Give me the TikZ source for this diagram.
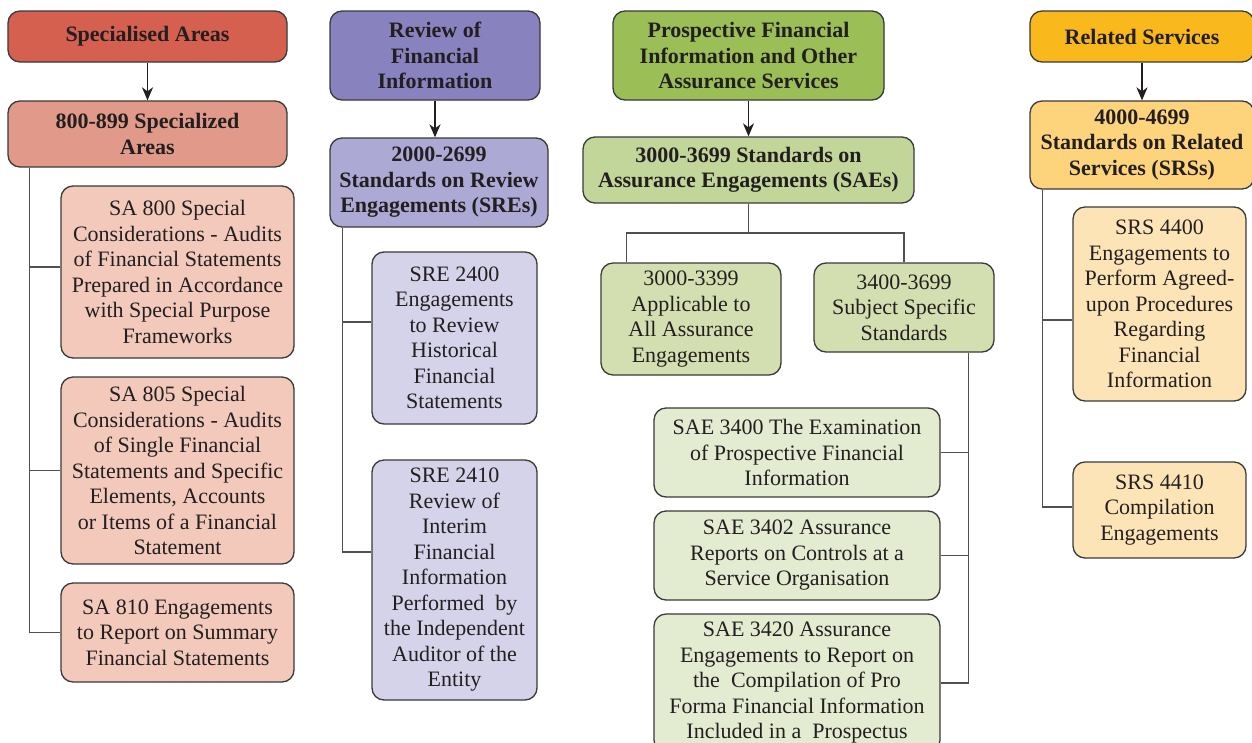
\documentclass[tikz,border=0pt]{standalone}
\usepackage{fontspec}
\setmainfont{Liberation Serif}
\usetikzlibrary{arrows.meta,calc}

% palette
\definecolor{ink}{HTML}{231F20}
\definecolor{boxline}{HTML}{3A3A3A}
\definecolor{linkgray}{HTML}{505050}
\definecolor{redA}{HTML}{D5604F}
\definecolor{redB}{HTML}{E19A89}
\definecolor{redC}{HTML}{F2C9BB}
\definecolor{purA}{HTML}{8882BF}
\definecolor{purB}{HTML}{ADA9D5}
\definecolor{purC}{HTML}{D5D3EA}
\definecolor{grnA}{HTML}{9BBE57}
\definecolor{grnB}{HTML}{C2D69A}
\definecolor{grnC}{HTML}{D3DFB0}
\definecolor{grnD}{HTML}{E3EBD0}
\definecolor{yelA}{HTML}{F9B91C}
\definecolor{yelB}{HTML}{FDD37C}
\definecolor{yelC}{HTML}{FDE4B7}

\begin{document}
\begin{tikzpicture}[x=1pt,y=-1pt,
  box/.style={draw=boxline, line width=1.3pt, rounded corners=12pt, align=center,
              inner sep=0pt, text=ink, font=\fontsize{22}{25.5}\selectfont},
  headbox/.style={box, font=\fontsize{22}{25.5}\selectfont\bfseries},
  link/.style={draw=linkgray, line width=1.6pt},
  arr/.style={draw=ink, line width=1.4pt, -{Stealth[length=13pt,width=11pt,inset=4pt]}}]

\useasboundingbox (0,0) rectangle (1252,742);
\clip (0,0) rectangle (1252,742);
\fill[white] (0,0) rectangle (1252,742);

% ---------- Specialised areas ----------
\node[headbox, fill=redA, minimum width=279pt, minimum height=51pt] (sa) at (147.5,36.5) {Specialised Areas};
\node[headbox, fill=redB, minimum width=279pt, minimum height=66pt] (s800) at (147.5,134) {800-899 Specialized\\Areas};
\node[box, fill=redC, minimum width=233pt, minimum height=172pt] (sa800) at (177.5,272)
  {SA 800 Special\\Considerations - Audits\\of Financial Statements\\Prepared in Accordance\\with Special Purpose\\Frameworks};
\node[box, fill=redC, minimum width=233pt, minimum height=187pt] (sa805) at (177.5,470.5)
  {SA 805 Special\\Considerations - Audits\\of Single Financial\\Statements and Specific\\Elements, Accounts\\or Items of a Financial\\Statement};
\node[box, fill=redC, minimum width=233pt, minimum height=99pt] (sa810) at (177.5,632.5)
  {SA 810 Engagements\\to Report on Summary\\Financial Statements};

\draw[arr] (sa.south) -- (s800.north);
\draw[link] ($(s800.south west)+(22,0)$) |- (sa810.west);
\draw[link] ($(s800.south west)+(22,0)$) |- ($(sa800.west)+(0,-5)$);
\draw[link] ($(s800.south west)+(22,0)$) |- (sa805.west);

% ---------- Review of financial information ----------
\node[headbox, fill=purA, minimum width=210pt, minimum height=89pt] (rf) at (435,55.5) {Review of\\Financial\\Information};
\node[headbox, fill=purB, minimum width=218pt, minimum height=89pt] (s2000) at (439,182.5) {2000-2699\\Standards on Review\\Engagements (SREs)};
\node[box, fill=purC, minimum width=165pt, minimum height=172pt] (sre2400) at (454.5,338)
  {SRE 2400\\Engagements\\to Review\\Historical\\Financial\\Statements};
\node[box, fill=purC, minimum width=165pt, minimum height=240pt] (sre2410) at (454.5,580)
  {SRE 2410\\Review of\\Interim\\Financial\\Information\\Performed~~by\\the Independent\\Auditor of the\\Entity};

\draw[arr] (rf.south) -- (rf.south |- s2000.north);
\draw[link] ($(s2000.south west)+(13,0)$) |- ($(sre2410.west)+(0,-28)$);
\draw[link] ($(s2000.south west)+(13,0)$) |- ($(sre2400.west)+(0,-16)$);

% ---------- Prospective financial information ----------
\node[headbox, fill=grnA, minimum width=271pt, minimum height=89pt] (pf) at (748.5,55.5) {Prospective Financial\\Information and Other\\Assurance Services};
\node[headbox, fill=grnB, minimum width=331pt, minimum height=66pt] (s3000) at (748.5,170) {3000-3699 Standards on\\Assurance Engagements (SAEs)};
\node[box, fill=grnC, minimum width=180pt, minimum height=112pt] (a3000) at (691,319)
  {3000-3399\\Applicable to\\All Assurance\\Engagements};
\node[box, fill=grnC, minimum width=180pt, minimum height=89pt] (a3400) at (904,307.5)
  {3400-3699\\Subject Specific\\Standards};
\node[box, fill=grnD, minimum width=286pt, minimum height=89pt] (sae3400) at (797,452.5)
  {SAE 3400 The Examination\\of Prospective Financial\\Information};
\node[box, fill=grnD, minimum width=286pt, minimum height=89pt] (sae3402) at (797,555.5)
  {SAE 3402 Assurance\\Reports on Controls at a\\Service Organisation};
\node[box, fill=grnD, minimum width=286pt, minimum height=138pt] (sae3420) at (797,683)
  {SAE 3420 Assurance\\Engagements to Report on\\the~~Compilation of Pro\\Forma Financial Information\\Included in a~~Prospectus};

\draw[arr] (pf.south) -- (pf.south |- s3000.north);
\coordinate (j3) at (748.5,233);
\draw[link] (s3000.south) -- (j3);
\draw[link] (j3) -| ($(a3000.north west)+(26,0)$);
\draw[link] (j3) -| (a3400.north);
\draw[link] ($(a3400.south east)+(-26,0)$) |- (sae3420.east);
\draw[link] (sae3400.east) -- ++(28,0);
\draw[link] (sae3402.east) -- ++(28,0);

% ---------- Related services ----------
\node[headbox, fill=yelA, minimum width=224pt, minimum height=51pt] (rs) at (1142,36.5) {Related Services};
\node[headbox, fill=yelB, minimum width=224pt, minimum height=88pt] (s4000) at (1142,145) {4000-4699\\Standards on Related\\Services (SRSs)};
\node[box, fill=yelC, minimum width=173pt, minimum height=194pt] (srs4400) at (1159.5,304)
  {SRS 4400\\Engagements to\\Perform Agreed-\\upon Procedures\\Regarding\\Financial\\Information};
\node[box, fill=yelC, minimum width=173pt, minimum height=96pt] (srs4410) at (1159.5,510)
  {SRS 4410\\Compilation\\Engagements};

\draw[arr] (rs.south) -- (s4000.north);
\draw[link] ($(s4000.south west)+(13,0)$) |- ($(srs4410.west)+(0,-3)$);
\draw[link] ($(s4000.south west)+(13,0)$) |- ($(srs4400.west)+(0,16)$);

\end{tikzpicture}
\end{document}
